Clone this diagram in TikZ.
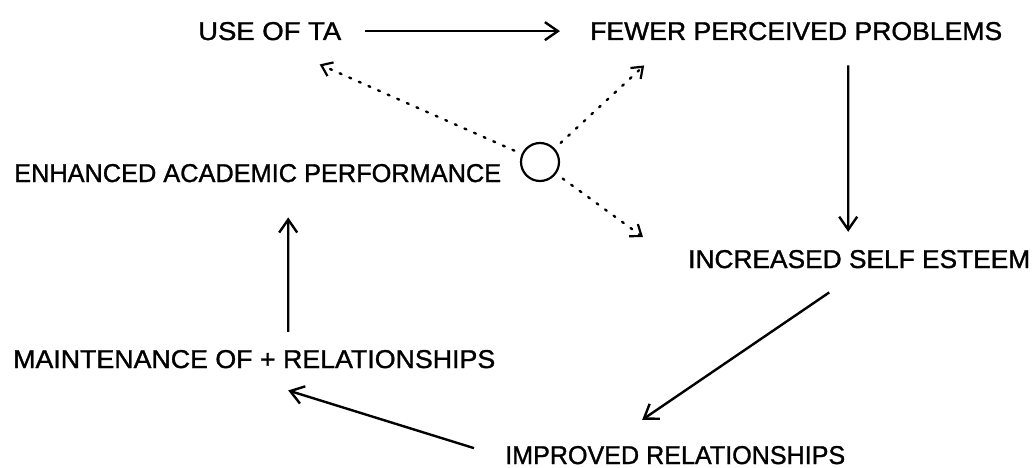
\documentclass[tikz,border=0pt]{standalone}
\usepackage{fontspec}
\usepackage{graphicx}
\setmainfont{Liberation Sans}[FakeBold=1.2]
\usetikzlibrary{arrows.meta,calc}
% a label set at a given width, all caps 18pt high
\newcommand{\capsbox}[2]{\resizebox{#1}{18pt}{#2}}
\begin{document}
\begin{tikzpicture}[x=1pt,y=-1pt,
  lbl/.style={anchor=base west,inner sep=0pt,font=\fontsize{24}{28}\selectfont},
  arr/.style={line width=2.4pt,-{Straight Barb[length=13pt,width=18pt,line width=2.4pt]}},
  dotarr/.style={line width=2.4pt,line cap=round,dash pattern=on 2pt off 8.5pt,
    shorten <=8pt,-{Straight Barb[length=10pt,width=15pt,line width=2.2pt,line cap=butt]}},
  hub/.style={circle,draw,line width=2.2pt,minimum size=38pt,inner sep=0pt}]
\useasboundingbox (0,0) rectangle (1033,468);

% statements
\node[lbl] (ta)    at (198,40)  {\capsbox{143pt}{USE OF TA}};
\node[lbl] (fewer) at (590,40)  {\capsbox{412pt}{FEWER PERCEIVED PROBLEMS}};
\node[lbl] (enh)   at (14,182)  {\capsbox{487pt}{ENHANCED ACADEMIC PERFORMANCE}};
\node[lbl] (incr)  at (688,268) {\capsbox{342pt}{INCREASED SELF ESTEEM}};
\node[lbl] (maint) at (13,368)  {\capsbox{482pt}{MAINTENANCE OF + RELATIONSHIPS}};
\node[lbl] (impr)  at (505,464) {\capsbox{340pt}{IMPROVED RELATIONSHIPS}};
\node[hub] (c)     at (540,162) {};

% main cycle
\draw[arr] ([xshift=24pt]ta.east) -- ([xshift=-30pt]fewer.west);
\draw[arr] ($(fewer.south)+(52,25)$) -- ($(incr.north)+(-11,-18)$);
\draw[arr] ($(incr.south)+(-30,24)$) -- ($(impr.north)+(-33,-26)$);
\draw[arr] ($(impr.west)+(-31,-7)$) -- ($(maint.south)+(34,22)$);
\draw[arr] ($(maint.north)+(34,-18)$) -- ($(enh.south)+(30.5,35)$);

% influences from the hub
\draw[dotarr] (c) -- ($(ta.south)+(50,24)$);
\draw[dotarr] (c) -- ($(fewer.south)+(-152,25)$);
\draw[dotarr] (c) -- ($(incr.west)+(-45,-22)$);
\end{tikzpicture}
\end{document}
